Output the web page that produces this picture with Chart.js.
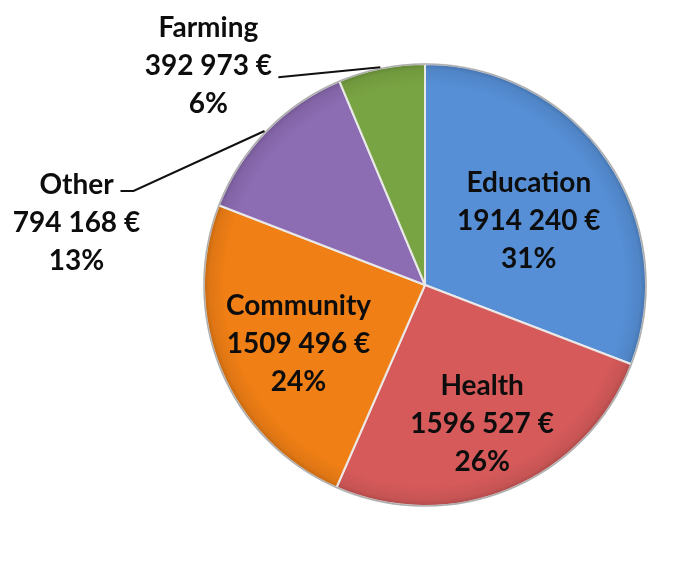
<!DOCTYPE html>
<html>
<head>
<meta charset="utf-8">
<script src="https://cdn.jsdelivr.net/npm/chart.js@4.4.1/dist/chart.umd.min.js"></script>
<style>
  html, body { margin: 0; padding: 0; background: #fff; }
  #wrap { width: 697px; height: 568px; position: relative; }
</style>
</head>
<body>
<div id="wrap"><canvas id="pie"></canvas></div>
<script>
// data
const categories = ['Education', 'Health', 'Community', 'Other', 'Farming'];
const amounts = [1914240, 1596527, 1509496, 794168, 392973];
const percents = ['31%', '26%', '24%', '13%', '6%'];
const sliceColors = ['#568fd6', '#d65a5a', '#f07f15', '#8c6cb3', '#79a443'];

// the original only splits off the last three digits ("1914 240 €")
function fmtEuro(v) {
  const s = v.toString();
  return s.slice(0, -3) + ' ' + s.slice(-3) + ' €';
}

// darker towards the rim, a bit like the bevelled look in the original
function shade(hex, k) {
  let n = parseInt(hex.slice(1), 16);
  let r = Math.round(((n >> 16) & 255) * k), g = Math.round(((n >> 8) & 255) * k), b = Math.round((n & 255) * k);
  return 'rgb(' + Math.min(r,255) + ',' + Math.min(g,255) + ',' + Math.min(b,255) + ')';
}

function sliceFill(ctx) {
  const chart = ctx.chart;
  const area = chart.chartArea;
  const base = sliceColors[ctx.dataIndex];
  if (!area) return base;
  const cx = (area.left + area.right) / 2, cy = (area.top + area.bottom) / 2;
  const r = Math.min(area.right - area.left, area.bottom - area.top) / 2;
  const g = chart.ctx.createRadialGradient(cx, cy, 0, cx, cy, r);
  g.addColorStop(0, base);
  g.addColorStop(0.9, base);
  g.addColorStop(0.97, shade(base, 0.93));
  g.addColorStop(1, shade(base, 0.8));
  return g;
}

const labelFont = 'bold 28px Lato, "Open Sans", sans-serif';
const lineGap = 38;

// inside labels sit at a fraction of the radius, outside ones get a leader line
const labelPlugin = {
  id: 'sliceLabels',
  afterDatasetsDraw(chart) {
    const c = chart.ctx;
    const meta = chart.getDatasetMeta(0);
    const inside = [0.57, 0.67, 0.62];
    const nudgeY = [7, 2, 6];
    c.save();
    c.font = labelFont;
    c.fillStyle = '#0d0d0d';
    c.textAlign = 'center';
    c.textBaseline = 'middle';
    meta.data.forEach((arc, i) => {
      const p = arc.getProps(['x', 'y', 'startAngle', 'endAngle', 'outerRadius']);
      const mid = (p.startAngle + p.endAngle) / 2;
      const lines = [categories[i], fmtEuro(amounts[i]), percents[i]];
      let tx, ty;
      if (i < 3) {
        const d = p.outerRadius * inside[i];
        tx = p.x + Math.cos(mid) * d;
        ty = p.y + Math.sin(mid) * d + nudgeY[i];
      } else {
        const ex = p.x + Math.cos(mid) * p.outerRadius;
        const ey = p.y + Math.sin(mid) * p.outerRadius;
        c.strokeStyle = '#111';
        c.lineWidth = 2;
        c.beginPath();
        if (i === 3) {
          c.moveTo(ex - 2, ey);
          c.lineTo(ex - 133, ey + 60);
          c.lineTo(ex - 146, ey + 60);
          tx = ex - 190; ty = ey + 92;
        } else {
          c.moveTo(ex - 1, ey - 1);
          c.lineTo(ex - 103, ey + 9);
          tx = ex - 173; ty = ey - 2;
        }
        c.stroke();
      }
      lines.forEach((t, k) => c.fillText(t, tx, ty + (k - 1) * lineGap));
    });
    c.restore();
  }
};

// thin grey rim round the whole pie
const rimPlugin = {
  id: 'rim',
  afterDatasetsDraw(chart) {
    const arc = chart.getDatasetMeta(0).data[0];
    if (!arc) return;
    const c = chart.ctx;
    c.save();
    c.strokeStyle = 'rgba(150,150,150,0.7)';
    c.lineWidth = 1.5;
    c.beginPath();
    c.arc(arc.x, arc.y, arc.outerRadius, 0, Math.PI * 2);
    c.stroke();
    c.restore();
  }
};

new Chart(document.getElementById('pie'), {
  type: 'pie',
  data: {
    labels: categories,
    datasets: [{
      data: amounts,
      backgroundColor: sliceFill,
      borderColor: 'rgba(235,235,235,0.95)',
      borderWidth: 2
    }]
  },
  options: {
    responsive: true,
    maintainAspectRatio: false,
    animation: false,
    layout: { padding: { left: 203, right: 50, top: 63, bottom: 61 } },
    plugins: {
      legend: { display: false },
      tooltip: { enabled: false }
    }
  },
  plugins: [rimPlugin, labelPlugin]
});
</script>
</body>
</html>
